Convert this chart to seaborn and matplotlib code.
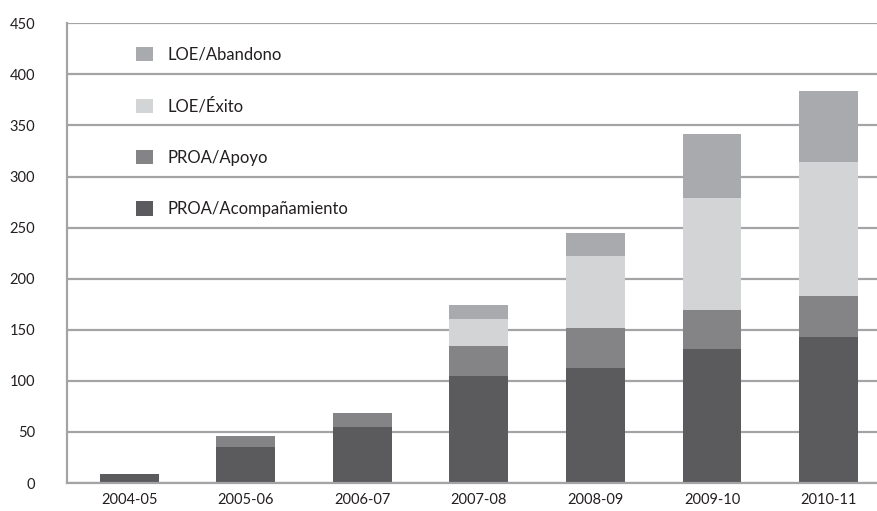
import numpy as np
import pandas as pd
import matplotlib
matplotlib.use("Agg")
import matplotlib.pyplot as plt
import seaborn as sns
from matplotlib.patches import Patch
from matplotlib.ticker import FixedLocator

# data
years = ["2004-05", "2005-06", "2006-07", "2007-08", "2008-09", "2009-10", "2010-11"]
proa_acomp = [9, 35, 55, 105, 113, 131, 143]
proa_apoyo = [0, 11, 14, 29, 39, 38, 40]
loe_exito = [0, 0, 0, 27, 70, 110, 131]
loe_abandono = [0, 0, 0, 13, 23, 63, 70]

series = ["PROA/Acompañamiento", "PROA/Apoyo", "LOE/Éxito", "LOE/Abandono"]
colors = ["#5b5b5d", "#848487", "#d3d4d6", "#a9aaad"]
grid_col = "#a4a4a7"

df = pd.DataFrame({"year": years, series[0]: proa_acomp, series[1]: proa_apoyo,
                   series[2]: loe_exito, series[3]: loe_abandono})
cum = df[series].cumsum(axis=1)

sns.set_style("white")
plt.rcParams["font.family"] = ["Lato", "DejaVu Sans"]

fig = plt.figure(figsize=(8.78, 5.11), dpi=100)
ax = fig.add_axes([67 / 878, 28 / 511, 1 - 67 / 878, (483 - 23.3) / 511])

# draw stacked bars back to front using cumulative totals
for s, c in reversed(list(zip(series, colors))):
    sns.barplot(x=df["year"], y=cum[s], color=c, width=0.506, saturation=1,
                linewidth=0, ax=ax)

ax.set_ylim(0, 450)
ax.set_xlim(-0.536, 6.425)
ax.set_yticks(range(0, 451, 50))
ax.yaxis.grid(True, color=grid_col, linewidth=1.6)
ax.set_axisbelow(True)
ax.set_xlabel("")
ax.set_ylabel("")

for side in ["top", "right"]:
    ax.spines[side].set_visible(False)
for side in ["left", "bottom"]:
    ax.spines[side].set_color(grid_col)
    ax.spines[side].set_linewidth(1.6)

ax.tick_params(axis="y", direction="out", length=7, width=1.6, color=grid_col,
               pad=16, labelsize=10.5, labelcolor="#231f20")
ax.tick_params(axis="x", which="major", length=0, pad=7, labelsize=10.5,
               labelcolor="#231f20")
ax.xaxis.set_minor_locator(FixedLocator(np.arange(-0.5, 6.6, 1)))
ax.tick_params(axis="x", which="minor", direction="out", length=7, width=1.6,
               color=grid_col)

handles = [Patch(facecolor=c, edgecolor="none") for c in colors]
leg = fig.legend(handles[::-1], series[::-1], loc="upper left",
                 bbox_to_anchor=(128 / 878, 1 - 38.5 / 511), frameon=False,
                 fontsize=12, labelspacing=2.12, handlelength=1.0,
                 handleheight=0.95, handletextpad=0.85, borderpad=0,
                 labelcolor="#231f20")

fig.savefig("out.png", dpi=100)
